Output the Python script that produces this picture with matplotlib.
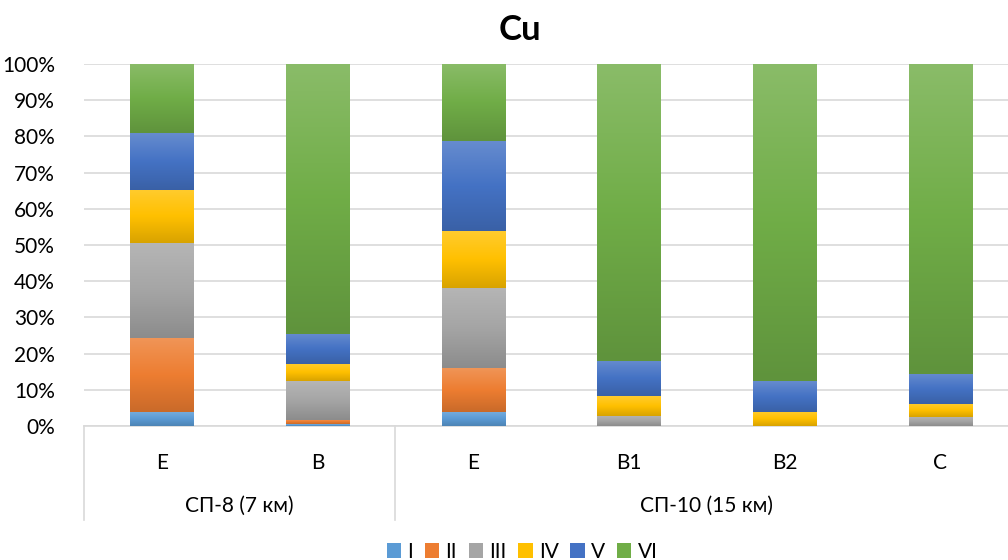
import numpy as np
import matplotlib.pyplot as plt
from matplotlib.colors import to_rgb
from matplotlib.patches import Patch

plt.rcParams['font.family'] = ['Lato', 'Noto Sans', 'DejaVu Sans']

# horizon labels and their groups
horizons = ['Е', 'В', 'Е', 'В1', 'В2', 'С']
groups = ['СП-8 (7 км)', 'СП-10 (15 км)']
group_sizes = [2, 4]

series = ['I', 'II', 'III', 'IV', 'V', 'VI']
# share of each fraction, %
frac_I = [4.0, 0.5, 4.0, 0.0, 0.0, 0.0]
frac_II = [20.4, 1.2, 12.1, 0.0, 0.0, 0.0]
frac_III = [26.1, 10.7, 22.1, 2.9, 0.0, 2.5]
frac_IV = [14.7, 4.7, 15.7, 5.4, 3.9, 3.6]
frac_V = [15.7, 8.4, 24.8, 9.7, 8.5, 8.4]
frac_VI = [19.1, 74.5, 21.3, 82.0, 87.6, 85.5]
colors = ['#5B9BD5', '#ED7D31', '#A5A5A5', '#FFC000', '#4472C4', '#70AD47']

FS = 15


def gradient_fill(ax, rect, color):
    # Excel-like vertical gradient: lighter top, base middle, darker bottom
    base = np.array(to_rgb(color))
    light = base + (1 - base) * 0.18
    dark = base * 0.85
    t = np.linspace(0, 1, 64)[:, None]
    top = np.where(t < 0.5, 1 - 2 * t, 0)
    bot = np.where(t >= 0.5, 2 * t - 1, 0)
    mid = 1 - top - bot
    img = top * light + mid * base + bot * dark
    img = img[:, None, :]
    x0, y0 = rect.get_x(), rect.get_y()
    w, h = rect.get_width(), rect.get_height()
    if h <= 0:
        return
    im = ax.imshow(img, extent=(x0, x0 + w, y0, y0 + h), origin='upper',
                   aspect='auto', zorder=3, interpolation='bilinear')
    im.set_clip_path(rect)


fig = plt.figure(figsize=(10.08, 5.6), dpi=100)
ax = fig.add_axes([84 / 1008, 134 / 560, 934 / 1008, 362 / 560])

data = np.array([frac_I, frac_II, frac_III, frac_IV, frac_V, frac_VI]) / 100
x = np.arange(len(horizons))
bottom = np.zeros(len(horizons))
for vals, col, name in zip(data, colors, series):
    bars = ax.bar(x, vals, 0.405, bottom=bottom, color=col, label=name,
                  zorder=2, linewidth=0)
    for b in bars:
        gradient_fill(ax, b, col)
    bottom += vals

ax.set_xlim(-0.5, len(horizons) - 0.5)
ax.set_ylim(0, 1)
ax.set_yticks(np.arange(0, 1.01, 0.1))
ax.set_yticklabels([f'{int(round(v * 100))}%' for v in np.arange(0, 1.01, 0.1)],
                   fontsize=FS)
ax.yaxis.grid(True, color='#d9d9d9', linewidth=1.2, zorder=0)
ax.set_axisbelow(True)
ax.tick_params(axis='y', length=0, pad=21)
ax.tick_params(axis='x', length=0)
ax.set_xticks([])
for s in ['top', 'right', 'left']:
    ax.spines[s].set_visible(False)
ax.spines['bottom'].set_color('#d9d9d9')
ax.spines['bottom'].set_linewidth(1.2)

# two-level category axis
trans = ax.get_xaxis_transform()
for xi, lab in zip(x, horizons):
    ax.text(xi, -37 / 362, lab, transform=trans, ha='center', va='center',
            fontsize=FS)
edges = np.concatenate([[0], np.cumsum(group_sizes)]) - 0.5
for i, g in enumerate(groups):
    c = (edges[i] + edges[i + 1]) / 2
    ax.text(c, -80 / 362, g, transform=trans, ha='center', va='center',
            fontsize=FS)
for e in edges:
    ax.plot([e, e], [0, -94 / 362], transform=trans, color='#d9d9d9',
            linewidth=1.2, clip_on=False)

fig.text(520 / 1008, 1 - 30 / 560, 'Cu', ha='center', va='center',
         fontsize=25, fontweight='bold')

handles = [Patch(facecolor=c, label=s) for c, s in zip(colors, series)]
fig.legend(handles=handles, loc='center', bbox_to_anchor=(522 / 1008, 8 / 560),
           ncol=6, frameon=False, fontsize=FS, handlelength=0.7,
           handleheight=0.7, handletextpad=0.3, columnspacing=0.55)

fig.savefig('out.png', dpi=100)
